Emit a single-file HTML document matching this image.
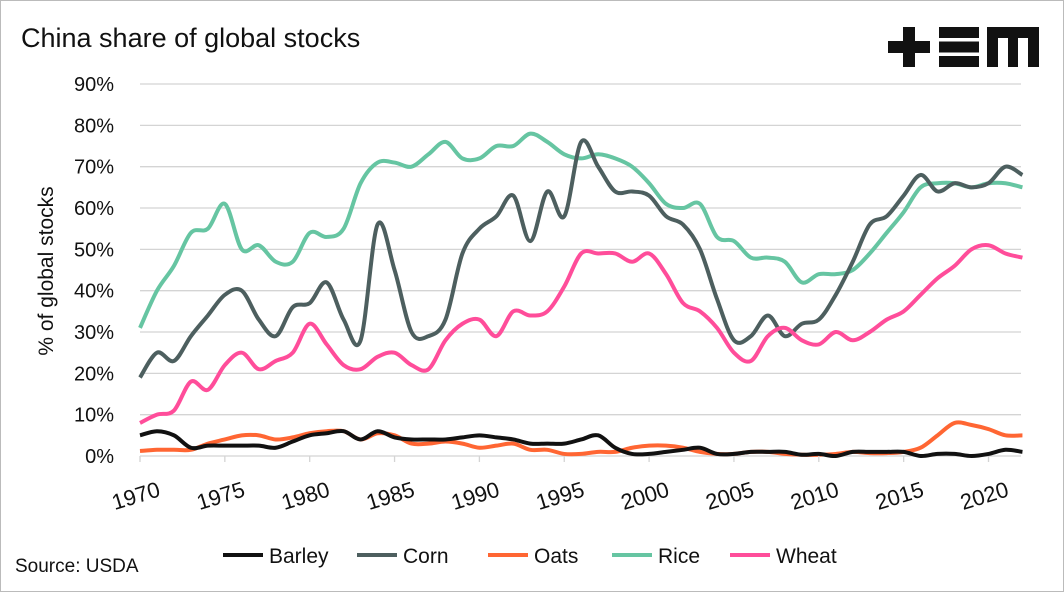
<!DOCTYPE html>
<html><head><meta charset="utf-8"><style>
body{margin:0;background:#fff;font-family:"Liberation Sans",sans-serif}
#wrap{position:relative;width:1062px;height:590px;border:1px solid #bbb;overflow:hidden}
</style></head><body>
<div id="wrap">
<svg id="chart" width="1062" height="590" xmlns="http://www.w3.org/2000/svg">
<text x="20" y="46" font-size="27" fill="#111">China share of global stocks</text>
<g fill="#111">
<rect x="887" y="40" width="42" height="12"/><rect x="902" y="26" width="12" height="40"/>
<rect x="938" y="26" width="40" height="11"/><rect x="938" y="40.5" width="40" height="11"/><rect x="938" y="55" width="40" height="11"/>
<path d="M986 66 V26 H1038 V66 H1027 V37 H1017 V66 H1007 V37 H997 V66 Z"/>
</g>
<g id="grid"></g><g id="series"></g><g id="axes"></g>
<text transform="translate(52,270) rotate(-90)" text-anchor="middle" font-size="21" fill="#111">% of global stocks</text>
<text x="14" y="571" font-size="19" fill="#111">Source: USDA</text>
<g id="legend"></g>
</svg></div>
<script>
const years=[];for(let y=1970;y<=2022;y++)years.push(y);
const barley=[5,6,5,2,2.5,2.5,2.5,2.5,2,3.5,5,5.5,6,4,6,4.5,4,4,4,4.5,5,4.5,4,3,3,3,4,5,2,0.5,0.5,1,1.5,2,0.5,0.5,1,1,1,0.3,0.5,0,1,1,1,1,0,0.5,0.5,0,0.5,1.5,1];
const corn=[19,25,23,29,34,39,40,33,29,36,37,42,33,28,56,45,30,29,33,49,55,58,63,52,64,58,76,70,64,64,63,58,56,50,38,28,29,34,29,32,33,39,47,56,58,63,68,64,66,65,66,70,68];
const oats=[1.2,1.5,1.5,1.5,3,4,5,5,4,4.5,5.5,6,6,4,5.5,5,3,3,3.5,3,2,2.5,3,1.5,1.5,0.5,0.5,1,1,2,2.5,2.5,2,1,0.5,0.5,1,1,0.5,0.3,0.3,0.5,1,0.7,0.7,1,2,5,8,7.5,6.5,5,5];
const rice=[31,40,46,54,55,61,50,51,47,47,54,53,55,66,71,71,70,73,76,72,72,75,75,78,76,73,72,73,72,70,66,61,60,61,53,52,48,48,47,42,44,44,45,49,54,59,65,66,66,65,66,66,65];
const wheat=[8,10,11,18,16,22,25,21,23,25,32,27,22,21,24,25,22,21,28,32,33,29,35,34,35,41,49,49,49,47,49,44,37,35,31,25,23,29,31,28,27,30,28,30,33,35,39,43,46,50,51,49,48];
const seriesNames=["Barley","Corn","Oats","Rice","Wheat"];
const seriesData=[barley,corn,oats,rice,wheat];
const colors=["#111111","#4d5f5f","#ff6633","#66c5a2","#ff4d9a"];
const yTicks=[0,10,20,30,40,50,60,70,80,90];
const xTicks=[1970,1975,1980,1985,1990,1995,2000,2005,2010,2015,2020];
const NS="http://www.w3.org/2000/svg";
const X=y=>139+(y-1970)*16.97, Y=v=>455-v*4.133;
function mk(t,a,p){const e=document.createElementNS(NS,t);for(const k in a)e.setAttribute(k,a[k]);p.appendChild(e);return e;}
const grid=document.getElementById('grid'),axes=document.getElementById('axes'),ser=document.getElementById('series'),leg=document.getElementById('legend');
yTicks.forEach(v=>{
 const l=mk('line',{x1:139,x2:1020,y1:Y(v),y2:Y(v),stroke:'#d4d4d4','stroke-width':1.3},grid);
 
 
 const t=mk('text',{x:113,y:Y(v)+7,'text-anchor':'end','font-size':20,fill:'#111'},axes);t.textContent=v+'%';
 
 
});
xTicks.forEach(yr=>{
 const tk=mk('line',{x1:X(yr),x2:X(yr),y1:455,y2:461,stroke:'#d4d4d4','stroke-width':1.3},axes);
 
 
 const t=mk('text',{transform:`translate(${X(yr)-2},${502}) rotate(-17)`,'text-anchor':'middle','font-size':22,fill:'#111'},axes);t.textContent=yr;
 
 
});
function path(vals){
 const p=vals.map((v,i)=>[X(years[i]),Y(v)]);let d=`M${p[0][0]},${p[0][1]}`;
 for(let i=0;i<p.length-1;i++){const p0=p[i-1]||p[i],p1=p[i],p2=p[i+1],p3=p[i+2]||p2;
  d+=` C${p1[0]+(p2[0]-p0[0])/6},${p1[1]+(p2[1]-p0[1])/6} ${p2[0]-(p3[0]-p1[0])/6},${p2[1]-(p3[1]-p1[1])/6} ${p2[0]},${p2[1]}`;}
 return d;}
const order=[3,1,4,2,0];
order.forEach(i=>{
 const pth=mk('path',{d:path(seriesData[i]),fill:'none',stroke:colors[i],'stroke-width':4,'stroke-linejoin':'round'},ser);
 
 
});
const lx=[222,356,487,611,729];
seriesNames.forEach((n,i)=>{
 const g=mk('g',{},leg);
 
 
 mk('line',{x1:lx[i],x2:lx[i]+40,y1:554,y2:554,stroke:colors[i],'stroke-width':4},g);
 const t=mk('text',{x:lx[i]+46,y:562,'font-size':21,fill:'#111'},g);t.textContent=n;
});
</script></body></html>
